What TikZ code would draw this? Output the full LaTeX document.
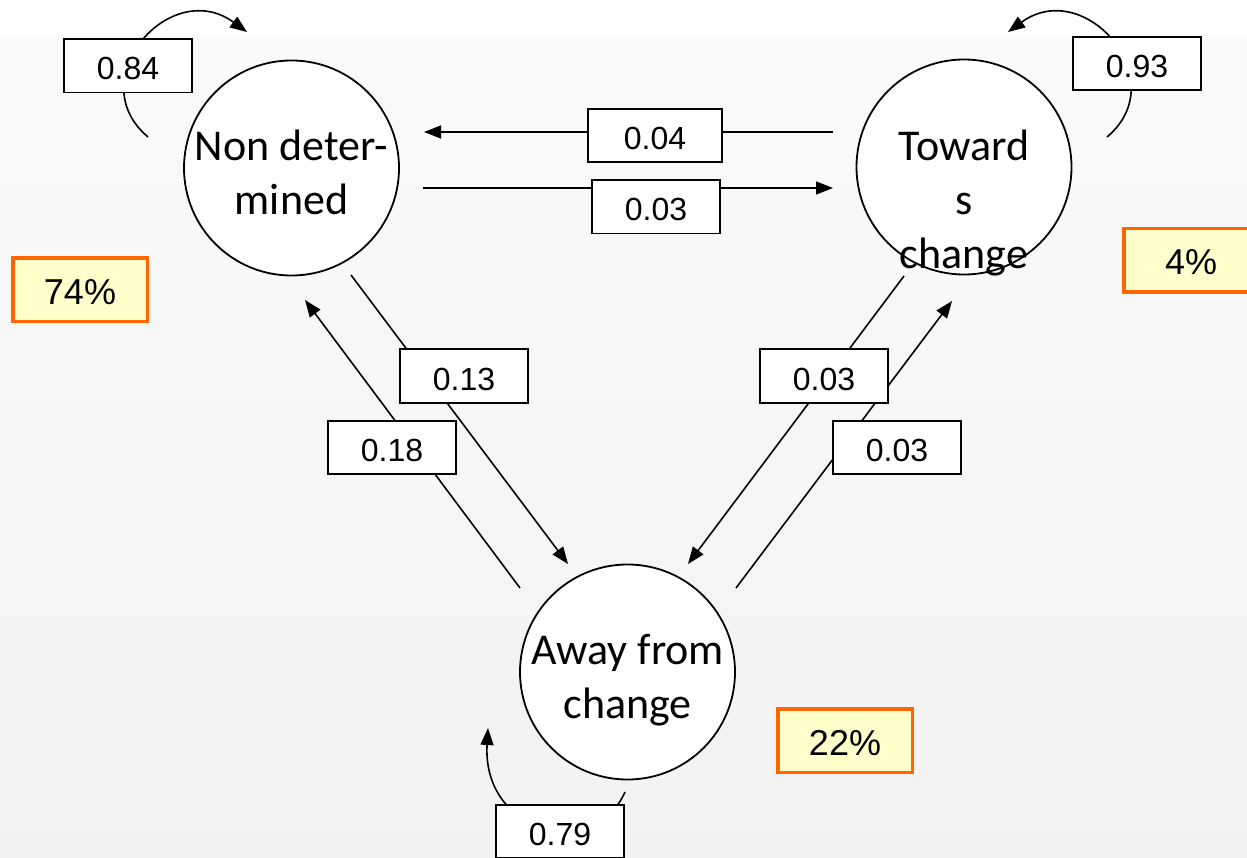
\documentclass[tikz,border=0pt]{standalone}
\usepackage{fontspec}
\setmainfont{Carlito}
\newfontfamily\labelfont{Liberation Sans}
\usetikzlibrary{arrows.meta}
\definecolor{shareorange}{HTML}{FF6600}
\definecolor{shareyellow}{HTML}{FFFFCC}

\begin{document}
\begin{tikzpicture}[x=1pt,y=-1pt,
  state/.style={circle,draw,line width=1.8pt,fill=white,minimum size=215pt,inner sep=0pt},
  statetext/.style={align=center,font=\fontsize{44}{54}\selectfont,inner sep=0pt},
  prob/.style={draw,line width=1.6pt,fill=white,minimum width=128.4pt,minimum height=53.4pt,inner sep=0pt,
    text height=28pt,text depth=0pt,font=\labelfont\fontsize{32}{38}\selectfont},
  share/.style={draw=shareorange,line width=3.5pt,fill=shareyellow,minimum width=134.5pt,minimum height=63.5pt,inner sep=0pt,
    text height=29pt,text depth=0pt,font=\labelfont\fontsize{36}{40}\selectfont},
  trans/.style={line width=1.6pt,-{Triangle[length=17pt,width=13pt]}},
]
% page and background
\useasboundingbox (0,0) rectangle (1247,858);
\fill[white] (0,0) rectangle (1247,858);
\shade[top color=gray!4,bottom color=gray!10] (0,38) rectangle (1247,858);

% states
\node[state] (nd) at (291.5,168) {};
\node[state] (tc) at (964,167) {};
\node[state] (af) at (627.5,672) {};
\node[statetext] (ndtext) at (291.5,172.5) {Non deter-\\mined};
\node[statetext] (tctext) at (964,203.5) {Toward\\s\\change};
\node[statetext] (aftext) at (627.5,680) {Away from\\change};

% connector end points
\coordinate (a1s) at (833,132);  \coordinate (a1e) at (424,132);
\coordinate (a2s) at (423,188);  \coordinate (a2e) at (833,188);
\coordinate (a3s) at (351,275);  \coordinate (a3e) at (568,564);
\coordinate (a4s) at (520,588);  \coordinate (a4e) at (305,300);
\coordinate (a5s) at (904,276);  \coordinate (a5e) at (688,564);
\coordinate (a6s) at (736,588);  \coordinate (a6e) at (952,301);
\coordinate (l1s) at (148,137);  \coordinate (l1e) at (247,32);
\coordinate (l2s) at (1107,137); \coordinate (l2e) at (1008,32);
\coordinate (l3s) at (625,792);  \coordinate (l3e) at (488,728);

% transitions between states
\draw[trans] (a1s) -- (a1e);
\draw[trans] (a2s) -- (a2e);
\draw[trans] (a3s) -- (a3e);
\draw[trans] (a4s) -- (a4e);
\draw[trans] (a5s) -- (a5e);
\draw[trans] (a6s) -- (a6e);

% staying in the same state
\draw[trans] (l1s) .. controls (80,80) and (170,-24) .. (l1e);
\draw[trans] (l2s) .. controls (1175,80) and (1085,-24) .. (l2e);
\draw[trans] (l3s) .. controls (595,860) and (482,835) .. (l3e);

% transition probabilities
\node[prob] (p84) at (128,66) {0.84};
\node[prob] (p93) at (1137,63.5) {0.93};
\node[prob] (p79) at (560,831.5) {0.79};
\node[prob,minimum width=134.4pt] (p04) at (655,135.5) {0.04};
\node[prob] (p03a) at (656,207) {0.03};
\node[prob] (p13) at (464,376) {0.13};
\node[prob] (p18) at (392,447.5) {0.18};
\node[prob] (p03b) at (824,376) {0.03};
\node[prob] (p03c) at (897,447.5) {0.03};

% state shares
\node[share] (s74) at (80,290) {74\%};
\node[share] (s4) at (1191,260.5) {4\%};
\node[share] (s22) at (845,740.5) {22\%};
\end{tikzpicture}
\end{document}
